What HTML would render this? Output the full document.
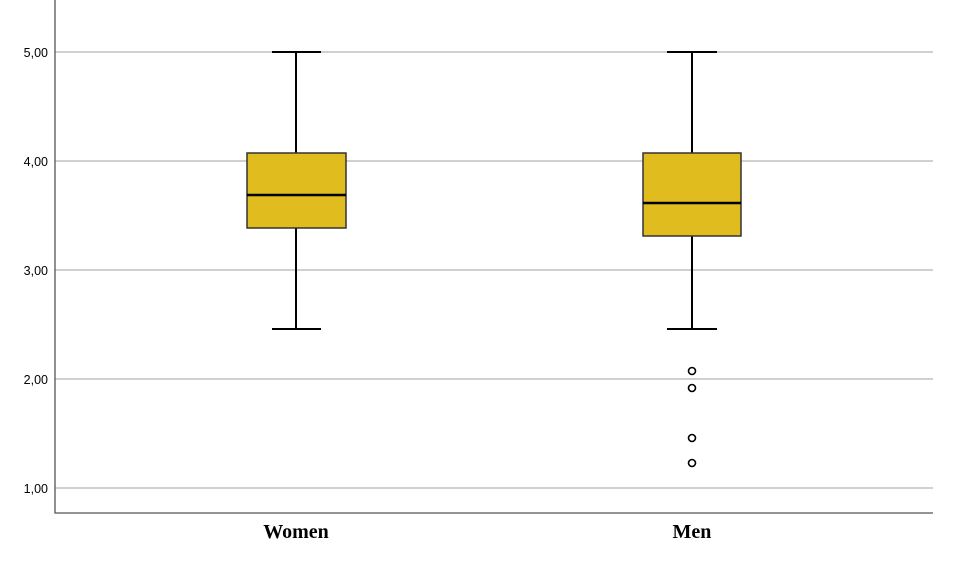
<!DOCTYPE html>
<html><head><style>body{margin:0;background:#fff}svg{display:block}</style></head><body>
<svg width="962" height="573" xmlns="http://www.w3.org/2000/svg">
<g stroke="#c0c0c0" stroke-width="1.5">
<line x1="55" x2="933" y1="52" y2="52"/><line x1="55" x2="933" y1="161" y2="161"/>
<line x1="55" x2="933" y1="270" y2="270"/><line x1="55" x2="933" y1="379" y2="379"/>
<line x1="55" x2="933" y1="488" y2="488"/></g>
<g font-family="Liberation Sans, sans-serif" font-size="12.5" text-anchor="end" fill="#000">
<text x="48" y="57">5,00</text><text x="48" y="166">4,00</text><text x="48" y="275">3,00</text>
<text x="48" y="384">2,00</text><text x="48" y="493">1,00</text></g>
<path d="M55 0 V513 H933" fill="none" stroke="#555" stroke-width="1.3"/>
<g stroke="#000" stroke-width="2" fill="none">
<line x1="296" x2="296" y1="52" y2="153"/><line x1="296" x2="296" y1="228" y2="329"/>
<line x1="272" x2="321" y1="52" y2="52"/><line x1="272" x2="321" y1="329" y2="329"/>
<line x1="692" x2="692" y1="52" y2="153"/><line x1="692" x2="692" y1="236" y2="329"/>
<line x1="667" x2="717" y1="52" y2="52"/><line x1="667" x2="717" y1="329" y2="329"/>
</g>
<rect x="247" y="153" width="99" height="75" fill="#e1bc1e" stroke="#333" stroke-width="1.5"/>
<line x1="247" x2="346" y1="195" y2="195" stroke="#000" stroke-width="2.5"/>
<rect x="643" y="153" width="98" height="83" fill="#e1bc1e" stroke="#333" stroke-width="1.5"/>
<line x1="643" x2="741" y1="203" y2="203" stroke="#000" stroke-width="2.5"/>
<g fill="#fff" stroke="#000" stroke-width="1.6">
<circle cx="692" cy="371" r="3.5"/><circle cx="692" cy="388" r="3.5"/>
<circle cx="692" cy="438" r="3.5"/><circle cx="692" cy="463" r="3.5"/></g>
<g font-family="Liberation Serif, serif" font-weight="bold" font-size="20" text-anchor="middle">
<text x="296" y="538">Women</text><text x="692" y="538">Men</text></g>
</svg>
</body></html>
